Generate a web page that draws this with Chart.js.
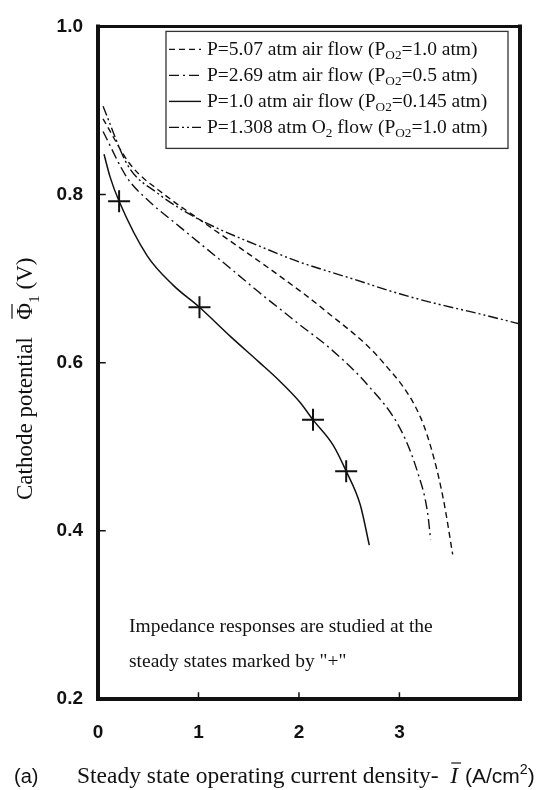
<!DOCTYPE html>
<html>
<head>
<meta charset="utf-8">
<script src="https://cdn.jsdelivr.net/npm/chart.js@4.4.0/dist/chart.umd.min.js"></script>
<style>
  html, body { margin: 0; padding: 0; background: #fff; }
</style>
</head>
<body>
<canvas id="polarization" width="548" height="790"></canvas>
<script>
// current density (A/cm2) and cathode potential (V) for each operating condition
const airHighI   = [0.05, 0.32, 0.65, 0.99, 1.42, 1.81, 2.24, 2.84, 3.21, 3.34, 3.44, 3.53];
const airHighPhi = [0.89, 0.836, 0.801, 0.772, 0.736, 0.703, 0.664, 0.600, 0.535, 0.488, 0.436, 0.372];

const airMidI   = [0.05, 0.29, 0.49, 0.82, 1.32, 1.60, 1.81, 2.01, 2.31, 2.68, 3.01, 3.18, 3.28, 3.31];
const airMidPhi = [0.875, 0.82, 0.794, 0.761, 0.712, 0.684, 0.664, 0.645, 0.617, 0.574, 0.521, 0.470, 0.422, 0.390];

const airLowI   = [0.06, 0.12, 0.21, 0.49, 0.75, 1.01, 1.32, 1.60, 1.81, 2.01, 2.14, 2.34, 2.47, 2.61, 2.70];
const airLowPhi = [0.848, 0.821, 0.792, 0.727, 0.692, 0.666, 0.631, 0.601, 0.578, 0.553, 0.532, 0.502, 0.471, 0.431, 0.383];

const oxyI   = [0.05, 0.30, 0.60, 0.92, 1.15, 1.62, 2.00, 2.31, 2.50, 3.00, 3.34, 3.80, 4.20];
const oxyPhi = [0.905, 0.834, 0.801, 0.776, 0.762, 0.738, 0.720, 0.708, 0.701, 0.682, 0.671, 0.658, 0.646];

// steady states used for the impedance study (on the 1.0 atm air curve)
const steadyI   = [0.21, 1.01, 2.14, 2.47];
const steadyPhi = [0.792, 0.666, 0.532, 0.471];

const seriesLabels = [
  'P=5.07 atm air flow (P_{O2}=1.0 atm)',
  'P=2.69 atm air flow (P_{O2}=0.5 atm)',
  'P=1.0 atm air flow (P_{O2}=0.145 atm)',
  'P=1.308 atm O_{2} flow (P_{O2}=1.0 atm)'
];
const seriesDash = [[6, 4], [10, 4, 2, 4], [], [10, 3, 2, 3, 2, 3]];

const xTicks = [0, 1, 2, 3];
const yTicks = [0.2, 0.4, 0.6, 0.8, 1.0];

const INK = '#111';
const SERIF = '"Liberation Serif", "Times New Roman", serif';
const SANS = '"Liberation Sans", Arial, sans-serif';

const toPoints = (xs, ys) => xs.map((x, i) => ({ x: x, y: ys[i] }));

const curves = [
  toPoints(airHighI, airHighPhi),
  toPoints(airMidI, airMidPhi),
  toPoints(airLowI, airLowPhi),
  toPoints(oxyI, oxyPhi)
];

const datasets = curves.map((pts, i) => ({
  label: seriesLabels[i],
  data: pts,
  borderColor: INK,
  borderWidth: i === 2 ? 1.5 : 1.4,
  borderDash: seriesDash[i],
  pointRadius: 0,
  fill: false,
  cubicInterpolationMode: 'monotone'
}));

datasets.push({
  label: 'steady',
  data: toPoints(steadyI, steadyPhi),
  showLine: false,
  pointStyle: 'cross',
  pointRadius: 11,
  pointBorderWidth: 2,
  borderColor: INK,
  backgroundColor: INK
});

// draws text with _{...} subscripts and ^{...} superscripts, returns end x
function richText(ctx, text, x, y, size, family, style) {
  const parts = text.split(/([_^]\{[^}]*\})/).filter(s => s.length);
  let cx = x;
  parts.forEach(p => {
    let fs = size, dy = 0, t = p;
    if (p[0] === '_' && p[1] === '{') { t = p.slice(2, -1); fs = size * 0.68; dy = size * 0.3; }
    else if (p[0] === '^' && p[1] === '{') { t = p.slice(2, -1); fs = size * 0.68; dy = -size * 0.42; }
    ctx.font = (style || '') + ' ' + fs + 'px ' + family;
    ctx.fillText(t, cx, y + dy);
    cx += ctx.measureText(t).width;
  });
  return cx;
}

const framePlugin = {
  id: 'frame',
  afterDraw(chart) {
    const { ctx, chartArea: a, scales } = chart;
    ctx.save();
    ctx.strokeStyle = INK;
    ctx.lineCap = 'square';

    // heavy box around the plot
    ctx.lineWidth = 4;
    ctx.beginPath();
    ctx.moveTo(a.left, a.top);
    ctx.lineTo(a.left, a.bottom);
    ctx.lineTo(a.right, a.bottom);
    ctx.lineTo(a.right, a.top);
    ctx.stroke();
    ctx.lineWidth = 3;
    ctx.beginPath();
    ctx.moveTo(a.left, a.top);
    ctx.lineTo(a.right, a.top);
    ctx.stroke();

    // inward tick marks
    ctx.lineWidth = 1.5;
    ctx.beginPath();
    xTicks.slice(1).forEach(v => {
      const px = scales.x.getPixelForValue(v);
      ctx.moveTo(px, a.bottom);
      ctx.lineTo(px, a.bottom - 6);
    });
    yTicks.slice(1, -1).forEach(v => {
      const py = scales.y.getPixelForValue(v);
      ctx.moveTo(a.left, py);
      ctx.lineTo(a.left + 7, py);
    });
    ctx.stroke();
    ctx.restore();
  }
};

const legendPlugin = {
  id: 'boxLegend',
  afterDraw(chart) {
    const ctx = chart.ctx;
    const a = chart.chartArea;
    const left = a.left + 68, top = a.top + 5, right = a.right - 12, bottom = a.top + 122;
    ctx.save();
    ctx.strokeStyle = '#333';
    ctx.lineWidth = 1.3;
    ctx.strokeRect(left, top, right - left, bottom - top);
    ctx.fillStyle = INK;
    ctx.textBaseline = 'middle';
    seriesLabels.forEach((lbl, i) => {
      const y = top + 18 + i * 26;
      ctx.beginPath();
      ctx.setLineDash(seriesDash[i]);
      ctx.lineWidth = 1.4;
      ctx.strokeStyle = INK;
      ctx.moveTo(left + 3, y);
      ctx.lineTo(left + 35, y);
      ctx.stroke();
      ctx.setLineDash([]);
      richText(ctx, lbl, left + 41, y, 19.5, SERIF);
    });
    ctx.restore();
  }
};

const titlesPlugin = {
  id: 'axisTitles',
  afterDraw(chart) {
    const ctx = chart.ctx;
    ctx.save();
    ctx.fillStyle = INK;
    ctx.strokeStyle = INK;
    ctx.textBaseline = 'alphabetic';

    // note inside the plot
    ctx.font = '19.5px ' + SERIF;
    ctx.fillText('Impedance responses are studied at the', 129, 632);
    ctx.fillText('steady states marked by "+"', 129, 667);

    // x axis title
    ctx.font = '20px ' + SANS;
    ctx.fillText('(a)', 14, 783);
    ctx.font = '23.5px ' + SERIF;
    const s = 'Steady state operating current density-  ';
    ctx.fillText(s, 77, 783);
    const cx = 77 + ctx.measureText(s).width;
    ctx.font = 'italic 23.5px ' + SERIF;
    ctx.fillText('I', cx, 783);
    const iw = ctx.measureText('I').width;
    ctx.lineWidth = 1.2;
    ctx.beginPath();
    ctx.moveTo(cx + 1, 763);
    ctx.lineTo(cx + iw + 3, 763);
    ctx.stroke();
    richText(ctx, ' (A/cm^{2})', cx + iw + 1, 783, 21, SANS);

    // y axis title, rotated
    ctx.translate(32, 500);
    ctx.rotate(-Math.PI / 2);
    ctx.font = '23px ' + SERIF;
    const t = 'Cathode potential   ';
    ctx.fillText(t, 0, 0);
    const ty = ctx.measureText(t).width;
    ctx.fillText('\u03A6', ty, 0);
    const fw = ctx.measureText('\u03A6').width;
    ctx.lineWidth = 1.2;
    ctx.beginPath();
    ctx.moveTo(ty + 1, -20);
    ctx.lineTo(ty + fw - 1, -20);
    ctx.stroke();
    richText(ctx, '_{1} (V)', ty + fw, 0, 23, SERIF);
    ctx.restore();
  }
};

new Chart(document.getElementById('polarization'), {
  type: 'line',
  data: { datasets: datasets },
  options: {
    responsive: false,
    animation: false,
    devicePixelRatio: 1,
    layout: { padding: { top: 21, right: 28, left: 0, bottom: 0 } },
    plugins: {
      legend: { display: false },
      tooltip: { enabled: false }
    },
    scales: {
      x: {
        type: 'linear',
        min: 0,
        max: 4.2,
        afterBuildTicks: scale => { scale.ticks = xTicks.map(v => ({ value: v })); },
        afterFit: scale => { scale.height = 91; },
        grid: { display: false, drawTicks: false },
        border: { display: false },
        ticks: {
          padding: 22,
          color: INK,
          maxRotation: 0,
          font: { family: SANS, size: 19, weight: 'bold' },
          callback: v => String(v)
        }
      },
      y: {
        type: 'linear',
        min: 0.2,
        max: 1.0,
        afterBuildTicks: scale => { scale.ticks = yTicks.map(v => ({ value: v })); },
        afterFit: scale => { scale.width = 98; },
        grid: { display: false, drawTicks: false },
        border: { display: false },
        ticks: {
          padding: 15,
          color: INK,
          font: { family: SANS, size: 19, weight: 'bold' },
          callback: v => v.toFixed(1)
        }
      }
    }
  },
  plugins: [framePlugin, legendPlugin, titlesPlugin]
});
</script>
</body>
</html>
